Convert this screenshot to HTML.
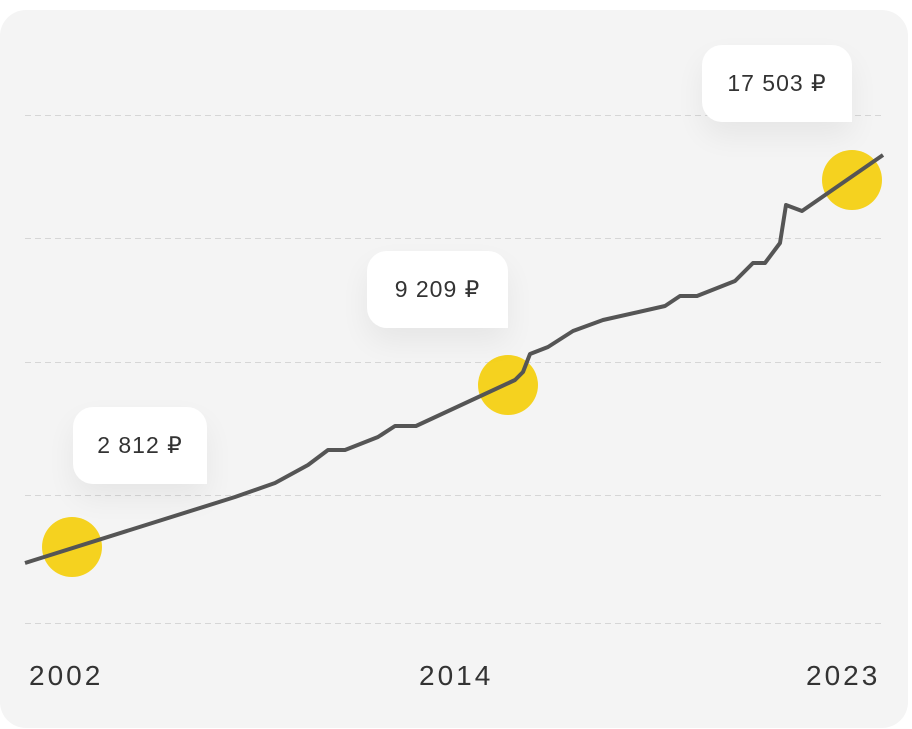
<!DOCTYPE html>
<html><head><meta charset="utf-8"><style>
html,body{margin:0;padding:0;background:#fff;width:912px;height:729px;overflow:hidden;font-family:"Liberation Sans",sans-serif;}
.card{position:absolute;left:0;top:10px;width:908px;height:718px;background:#f4f4f4;border-radius:26px;}
.tip{position:absolute;background:#fff;border-radius:20px 20px 0 20px;box-shadow:0 14px 30px rgba(0,0,0,0.06);color:#333;font-size:23px;letter-spacing:1px;display:flex;align-items:center;justify-content:center;}
.yr{position:absolute;top:660px;font-size:28px;letter-spacing:3px;color:#333;}
</style></head><body>
<div class="card"></div>
<svg width="912" height="729" style="position:absolute;left:0;top:0">
<g stroke="#d6d6d6" stroke-width="1" stroke-dasharray="6,4">
<line x1="25" y1="115.5" x2="883" y2="115.5"/>
<line x1="25" y1="238.5" x2="883" y2="238.5"/>
<line x1="25" y1="362.5" x2="883" y2="362.5"/>
<line x1="25" y1="495.5" x2="883" y2="495.5"/>
<line x1="25" y1="623.5" x2="883" y2="623.5"/>
</g>
<g fill="#f5d21f">
<circle cx="72" cy="547" r="30"/>
<circle cx="508" cy="385" r="30"/>
<circle cx="852" cy="180" r="30"/>
</g>
<polyline fill="none" stroke="#555" stroke-width="4" stroke-linejoin="round" points="25,563 235,497 275,483 308,465 328,450 345,450 378,437 395,426 416,426 515,380 523,372 530,354 548,347 573,331 603,320 665,306 680,296 697,296 735,281 753,263 765,263 780,243 786,205 802,211 883,155"/>
</svg>
<div class="tip" style="left:73px;top:407px;width:134px;height:77px">2 812 ₽</div>
<div class="tip" style="left:367px;top:251px;width:141px;height:77px">9 209 ₽</div>
<div class="tip" style="left:702px;top:45px;width:150px;height:77px">17 503 ₽</div>
<div class="yr" style="left:29px">2002</div>
<div class="yr" style="left:419px">2014</div>
<div class="yr" style="left:806px">2023</div>
</body></html>
